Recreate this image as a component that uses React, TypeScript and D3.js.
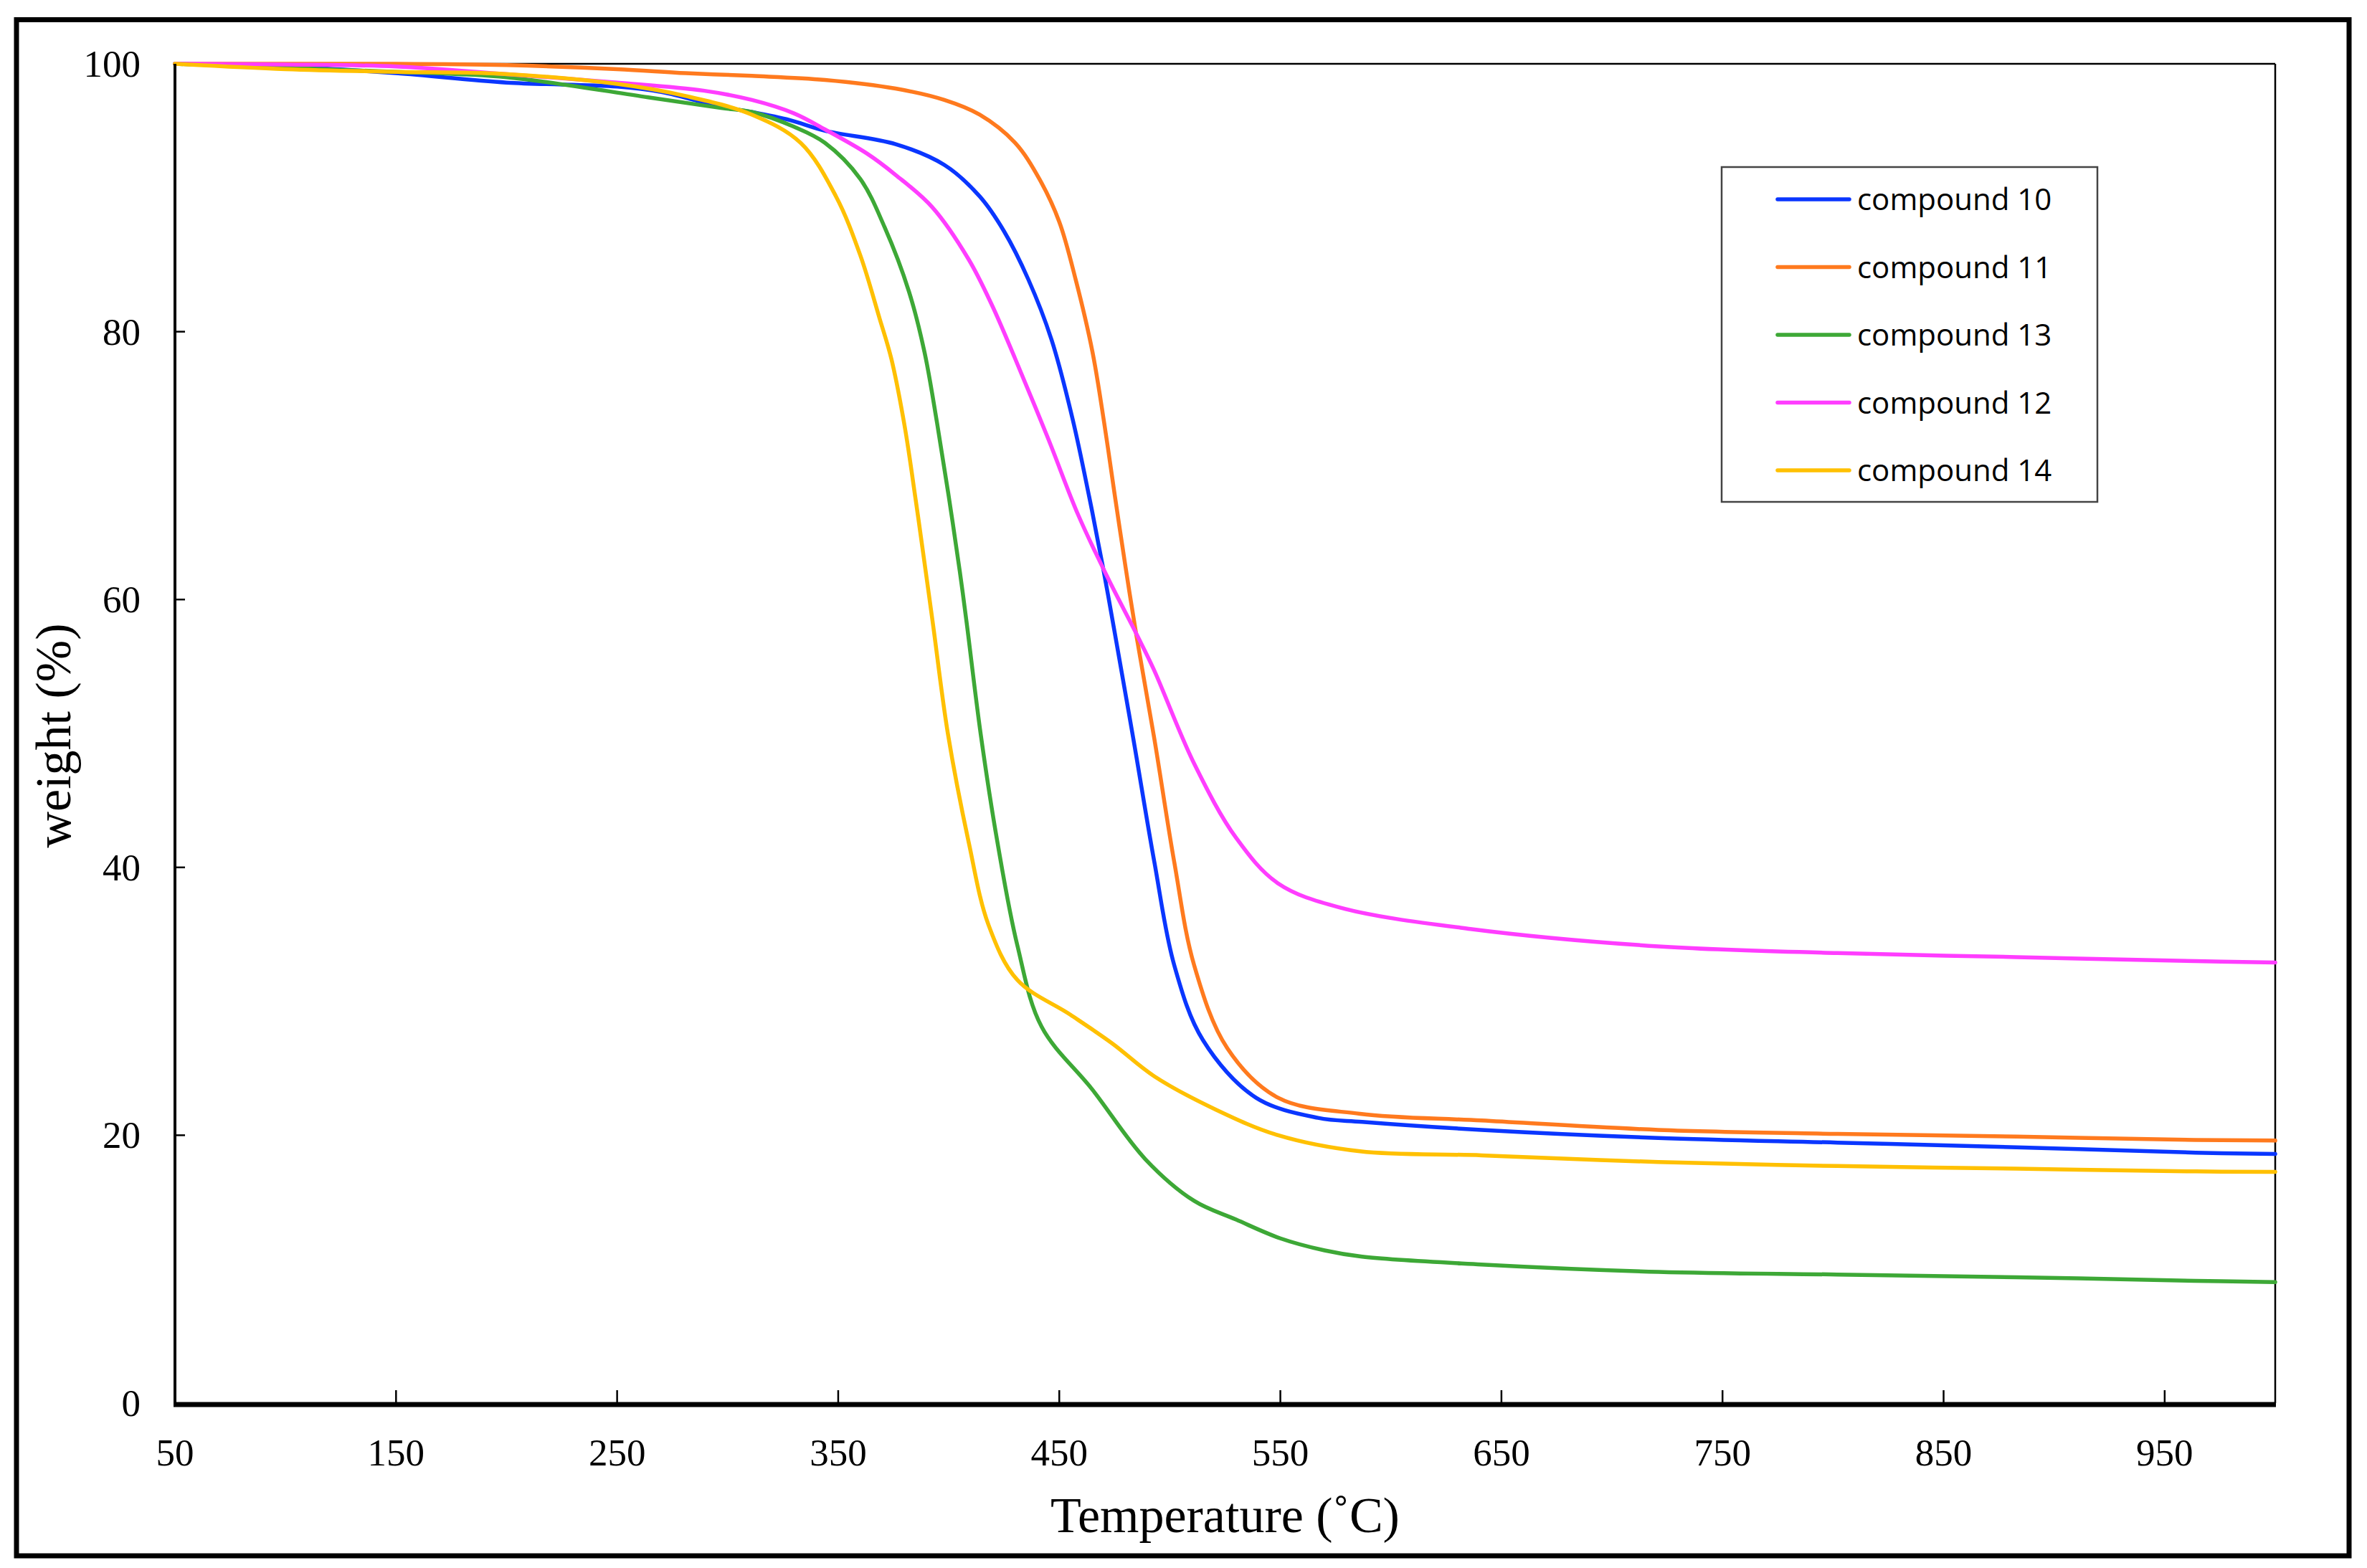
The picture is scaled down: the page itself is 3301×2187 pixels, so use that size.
import React from "react";
import * as d3 from "d3";

const WIDTH = 3301;
const HEIGHT = 2187;

// compound 10
const temp10 = [50, 100, 150, 200, 250, 270, 297, 311, 328, 344, 376, 398, 414, 425, 436, 446.5, 456, 463.5, 470, 475, 483.5, 493, 502, 515, 539, 567, 587, 641, 721, 802, 883, 964, 1000];
const weight10 = [100, 99.8, 99.3, 98.6, 98.3, 97.9, 96.8, 96.4, 95.8, 95.0, 94.0, 92.45, 90.1, 87.5, 83.9, 79.4, 73.5, 67.7, 62.2, 57.6, 49.6, 40.4, 32.7, 27.1, 22.8, 21.3, 21.0, 20.4, 19.8, 19.45, 19.1, 18.7, 18.6];

// compound 11
const temp11 = [50, 100, 150, 200, 250, 281, 311, 344, 376, 398, 414, 430, 441, 450, 457.4, 465, 470.3, 475, 480, 485, 493, 502, 511, 526, 549, 586, 641, 721, 802, 883, 964, 1000];
const weight11 = [100, 100, 100, 99.9, 99.6, 99.3, 99.1, 98.8, 98.15, 97.3, 96.2, 94.1, 91.4, 88.2, 83.9, 78.5, 73.2, 67.9, 62.4, 57.2, 49.6, 40.4, 32.7, 26.5, 22.8, 21.6, 21.1, 20.4, 20.1, 19.9, 19.65, 19.6];

// compound 13
const temp13 = [50, 100, 150, 200, 264, 297, 311, 330, 344, 360, 371, 382, 389, 394.7, 400, 405, 408, 414.5, 422, 431, 442, 465, 489, 511, 530, 550, 570, 587, 641, 721, 802, 883, 964, 1000];
const weight13 = [100, 99.7, 99.4, 99.0, 97.5, 96.7, 96.4, 95.3, 94.1, 91.4, 87.8, 83.0, 78.5, 73.2, 67.7, 62.1, 58.4, 49.9, 41.9, 34.2, 28.1, 23.4, 18.2, 15.1, 13.7, 12.3, 11.4, 10.93, 10.35, 9.8, 9.6, 9.4, 9.13, 9.03];

// compound 12
const temp12 = [50, 100, 150, 198, 250, 289, 311, 330, 344, 363, 376, 392.5, 409, 419.5, 430, 445, 458.6, 472, 485, 492.7, 511, 530, 549, 577, 636, 721, 802, 883, 964, 1000];
const weight12 = [100, 99.95, 99.8, 99.25, 98.6, 98.0, 97.3, 96.3, 95.1, 93.3, 91.7, 89.3, 85.4, 82.0, 78.0, 72.0, 66.3, 61.6, 57.4, 54.8, 47.75, 42.2, 38.8, 37.0, 35.4, 34.1, 33.6, 33.3, 33.0, 32.9];

// compound 14
const temp14 = [50, 100, 150, 198, 250, 281, 311, 333, 349, 360, 368.7, 374, 380, 385, 389.5, 393, 399.6, 409, 418, 431, 455, 474, 493, 521, 549, 586, 641, 721, 802, 883, 964, 1000];
const weight14 = [100, 99.6, 99.4, 99.25, 98.5, 97.6, 96.2, 94.1, 90.1, 85.7, 81.0, 78.0, 73.0, 67.5, 62.2, 58.0, 50.0, 41.9, 35.7, 31.6, 29.0, 26.85, 24.4, 21.9, 20.0, 18.8, 18.5, 18.0, 17.7, 17.5, 17.3, 17.26];

const seriesNames = ["compound 10", "compound 11", "compound 13", "compound 12", "compound 14"];
const seriesColors = ["#0A36FF", "#FF7A1E", "#3DA836", "#FF3DFF", "#FFC000"];
const seriesTemps = [temp10, temp11, temp13, temp12, temp14];
const seriesWeights = [weight10, weight11, weight13, weight12, weight14];

const xTicks = [50, 150, 250, 350, 450, 550, 650, 750, 850, 950];
const yTicks = [0, 20, 40, 60, 80, 100];

const PLOT = { left: 244, right: 3173, top: 89, bottom: 1957 };

export default function App() {
  const x = d3.scaleLinear().domain([50, 1000]).range([PLOT.left, PLOT.right]);
  const y = d3.scaleLinear().domain([0, 100]).range([PLOT.bottom, PLOT.top]);

  const line = d3
    .line<[number, number]>()
    .x((d) => x(d[0]))
    .y((d) => y(d[1]))
    .curve(d3.curveCatmullRom.alpha(0.5));

  const serif = "'Liberation Serif', 'Times New Roman', serif";

  return (
    <svg
      width={WIDTH}
      height={HEIGHT}
      style={{ position: "absolute", left: 0, top: 0, background: "#fff" }}
    >
      <rect x={0} y={0} width={WIDTH} height={HEIGHT} fill="#fff" />
      {/* outer frame */}
      <rect x={23} y={27.5} width={3253} height={2142.5} fill="none" stroke="#000" strokeWidth={7} />

      {/* plot box: thin top/right */}
      <line x1={PLOT.left} x2={PLOT.right} y1={PLOT.top} y2={PLOT.top} stroke="#000" strokeWidth={2.5} />
      <line x1={PLOT.right} x2={PLOT.right} y1={PLOT.top} y2={PLOT.bottom} stroke="#000" strokeWidth={2.5} />

      {/* series */}
      <g fill="none" strokeWidth={5.5} strokeLinejoin="round" strokeLinecap="round">
        {seriesNames.map((name, i) => (
          <path
            key={name}
            d={line(seriesTemps[i].map((t, j) => [t, seriesWeights[i][j]] as [number, number])) || ""}
            stroke={seriesColors[i]}
          />
        ))}
      </g>

      {/* axes */}
      <line x1={PLOT.left} x2={PLOT.left} y1={PLOT.top} y2={PLOT.bottom} stroke="#000" strokeWidth={4} />
      <line x1={PLOT.left - 2} x2={PLOT.right + 1} y1={PLOT.bottom + 2} y2={PLOT.bottom + 2} stroke="#000" strokeWidth={7} />

      <g stroke="#000" strokeWidth={2.5}>
        {xTicks.slice(1).map((t) => (
          <line key={t} x1={x(t)} x2={x(t)} y1={PLOT.bottom} y2={PLOT.bottom - 18} />
        ))}
        {yTicks.slice(1, -1).map((t) => (
          <line key={t} x1={PLOT.left} x2={PLOT.left + 14} y1={y(t)} y2={y(t)} />
        ))}
      </g>

      <g fontFamily={serif} fontSize={53} fill="#000">
        {xTicks.map((t) => (
          <text key={t} x={x(t)} y={2044} textAnchor="middle">
            {t}
          </text>
        ))}
        {yTicks.map((t) => (
          <text key={t} x={196} y={y(t) + 18} textAnchor="end">
            {t}
          </text>
        ))}
      </g>

      <text x={(PLOT.left + PLOT.right) / 2} y={2137} textAnchor="middle" fontFamily={serif} fontSize={70}>
        Temperature (˚C)
      </text>
      <text
        transform={`translate(98,1026) rotate(-90)`}
        textAnchor="middle"
        fontFamily={serif}
        fontSize={70}
      >
        weight (%)
      </text>

      {/* legend */}
      <rect x={2401} y={233} width={524} height={467} fill="#fff" stroke="#444" strokeWidth={2.5} />
      {seriesNames.map((name, i) => {
        const ry = 278 + i * 94.5;
        return (
          <g key={name}>
            <line x1={2479} x2={2579} y1={ry} y2={ry} stroke={seriesColors[i]} strokeWidth={5.5} strokeLinecap="round" />
            <text x={2590} y={ry + 15} fontFamily="'Open Sans', sans-serif" fontSize={42} fill="#000">
              {name}
            </text>
          </g>
        );
      })}
    </svg>
  );
}
